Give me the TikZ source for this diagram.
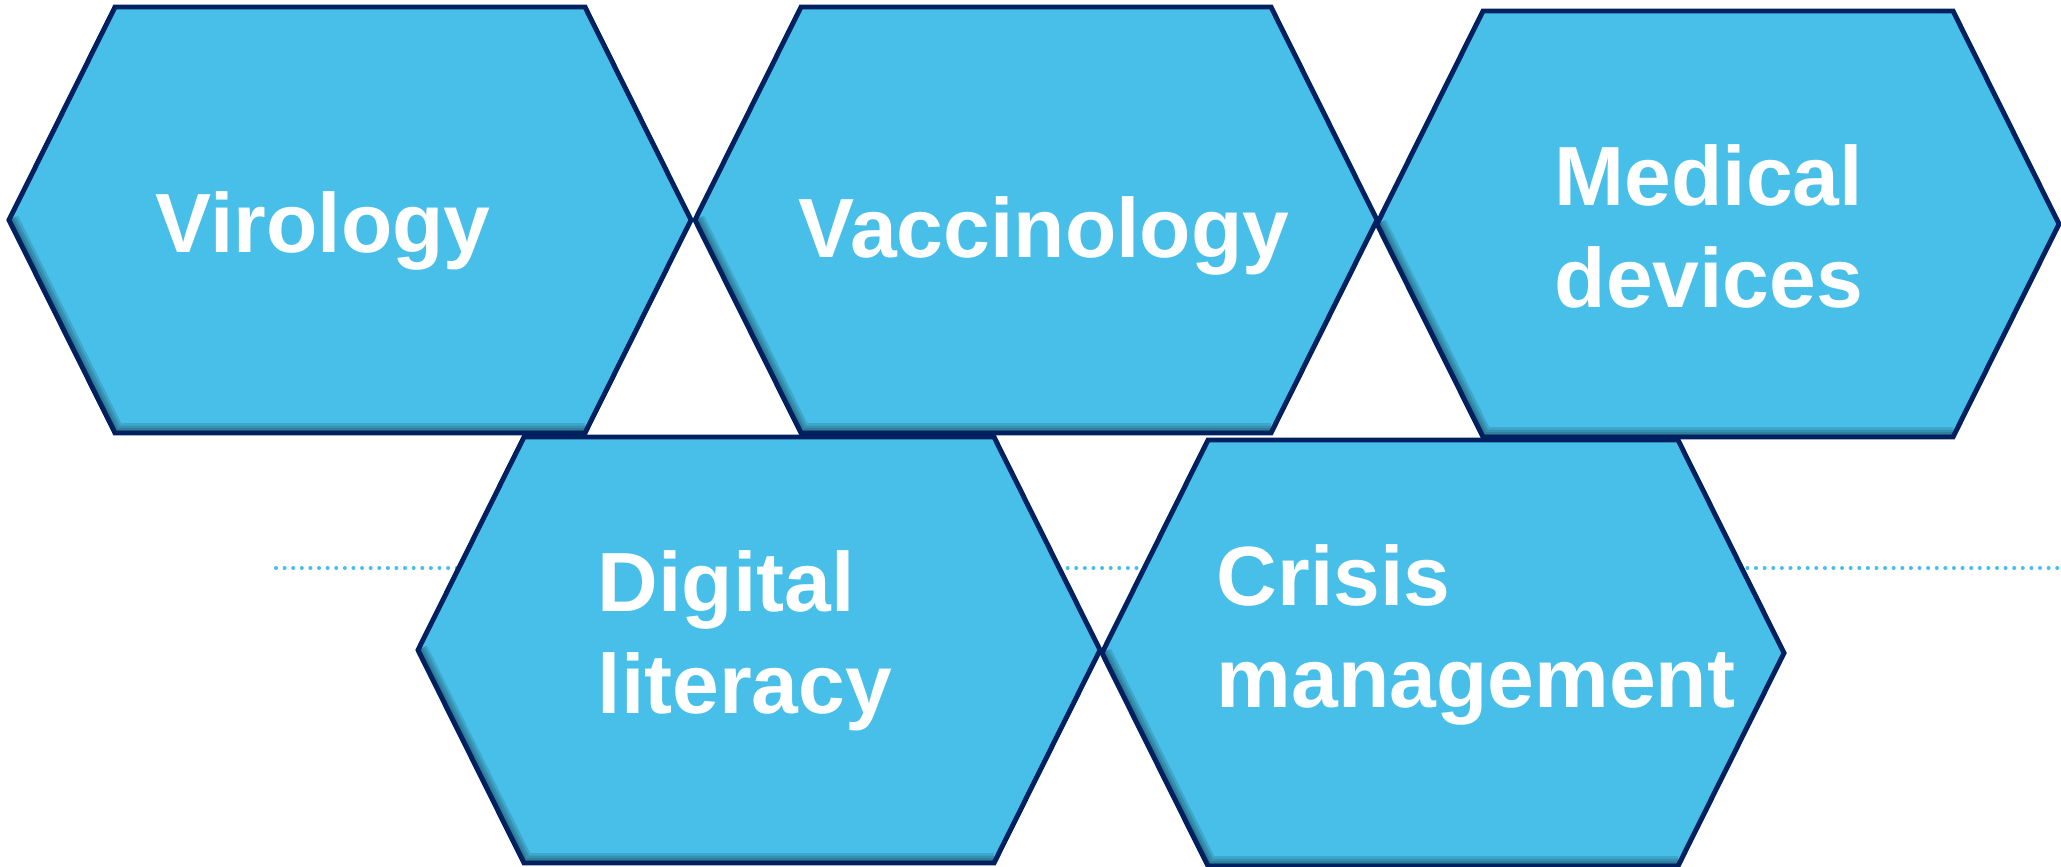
\documentclass[tikz,border=0pt]{standalone}
\usepackage{fontspec}
\setmainfont{Liberation Sans}
\usetikzlibrary{positioning}

\definecolor{hexfill}{RGB}{71,191,233}
\definecolor{hexline}{RGB}{0,32,96}

\tikzset{
  hexa/.style={draw=hexline,line width=1.4pt,line join=miter},
  hexlabel/.style={anchor=base west,align=left,inner sep=0pt,text=white,
    font=\bfseries\fontsize{23.9pt}{29pt}\selectfont},
  dotline/.style={hexfill,line width=0.04cm,line cap=round,dash pattern=on 0pt off 0.086cm}
}

\begin{document}
\begin{tikzpicture}[x=0.01cm,y=-0.01cm]
        \useasboundingbox (0,0) rectangle (2061,867);
        \draw[dotline] (276,568) -- (2061,568);
        % hexagons, top row first
        \foreach \cx/\cy in {350/220, 1036/220, 1718/224, 759/650, 1443/653} {
            \fill[hexfill] (\cx-341,\cy) -- (\cx-235,\cy-213) -- (\cx+235,\cy-213) -- (\cx+341,\cy)
                -- (\cx+235,\cy+213) -- (\cx-235,\cy+213) -- cycle;
            \begin{scope}
                \clip (\cx-341,\cy) -- (\cx-235,\cy-213) -- (\cx+235,\cy-213) -- (\cx+341,\cy)
                    -- (\cx+235,\cy+213) -- (\cx-235,\cy+213) -- cycle;
                \foreach \w in {20,15,10,6} {
                    \draw[black,opacity=0.12,line width=\w*0.01cm]
                        (\cx-341,\cy) -- (\cx-235,\cy+213) -- (\cx+235,\cy+213);
                }
            \end{scope}
            \draw[hexa] (\cx-341,\cy) -- (\cx-235,\cy-213) -- (\cx+235,\cy-213) -- (\cx+341,\cy)
                -- (\cx+235,\cy+213) -- (\cx-235,\cy+213) -- cycle;
        }
        \node[hexlabel] (viro) at (155,252) {Virology};
        \node[hexlabel] (vacc) at (798,257) {Vaccinology};
        \node[hexlabel] (medi) at (1554,307) {Medical\\devices};
        \node[hexlabel] (digi) at (597,713) {Digital\\literacy};
        \node[hexlabel] (cris) at (1216,707) {Crisis\\management};
\end{tikzpicture}
\end{document}
